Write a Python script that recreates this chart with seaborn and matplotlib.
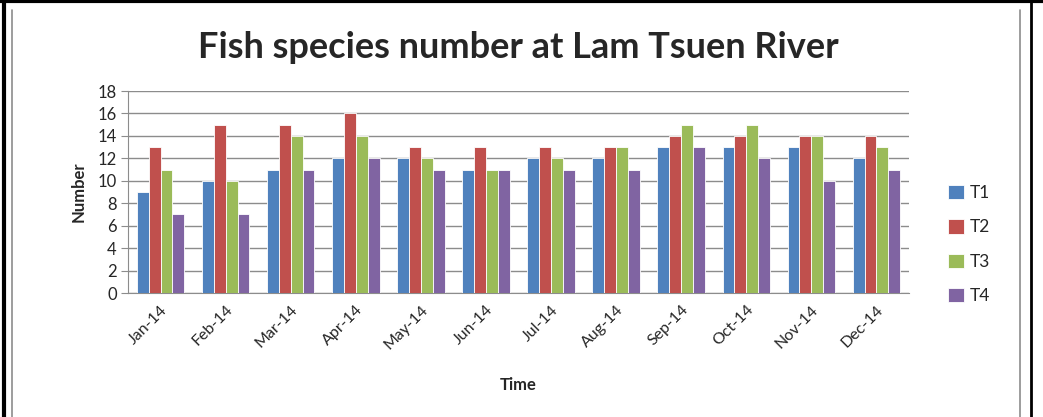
import numpy as np
import pandas as pd
import seaborn as sns
import matplotlib.pyplot as plt
from matplotlib.lines import Line2D

# Monthly fish species counts at four stations
months = ["Jan-14", "Feb-14", "Mar-14", "Apr-14", "May-14", "Jun-14",
          "Jul-14", "Aug-14", "Sep-14", "Oct-14", "Nov-14", "Dec-14"]
t1 = [9, 10, 11, 12, 12, 11, 12, 12, 13, 13, 13, 12]
t2 = [13, 15, 15, 16, 13, 13, 13, 13, 14, 14, 14, 14]
t3 = [11, 10, 14, 14, 12, 11, 12, 13, 15, 15, 14, 13]
t4 = [7, 7, 11, 12, 11, 11, 11, 11, 13, 12, 10, 11]
stations = ["T1", "T2", "T3", "T4"]

df = pd.DataFrame({"Time": months, "T1": t1, "T2": t2, "T3": t3, "T4": t4})
df = df.melt(id_vars="Time", var_name="Station", value_name="Number")

colors = ["#4F81BD", "#C0504D", "#9BBB59", "#8064A2"]

sns.set_style("white")
plt.rcParams["font.family"] = ["Lato", "DejaVu Sans"]

fig = plt.figure(figsize=(10.43, 4.17), dpi=100)
ax = fig.add_axes([128 / 1043, (417 - 293) / 417, 781 / 1043, 202 / 417])

sns.barplot(data=df, x="Time", y="Number", hue="Station", hue_order=stations,
            palette=colors, saturation=1, width=0.73, edgecolor="white",
            linewidth=0.6, ax=ax, zorder=3)

ax.set_ylim(0, 18)
ax.set_yticks(np.arange(0, 19, 2))
ax.set_xlim(-0.5, 11.5)
ax.yaxis.grid(True, color="#8c8c8c", linewidth=1.0, zorder=0)
ax.set_axisbelow(True)
for s in ["top", "right"]:
    ax.spines[s].set_visible(False)
ax.spines["left"].set_color("#8c8c8c")
ax.spines["bottom"].set_color("#8c8c8c")
ax.tick_params(axis="y", left=True, length=5, color="#8c8c8c", labelsize=12, pad=3)
ax.tick_params(axis="x", bottom=False, labelsize=11.5)
plt.setp(ax.get_xticklabels(), rotation=45, ha="right", rotation_mode="anchor")

ax.set_xlabel("Time", fontsize=12, fontweight="bold", labelpad=18)
ax.set_ylabel("Number", fontsize=12, fontweight="bold", labelpad=8)

fig.text(0.497, 0.885, "Fish species number at Lam Tsuen River",
         ha="center", va="center", fontsize=26, fontweight="bold")

leg = ax.legend(loc="center left", bbox_to_anchor=(1.03, 0.24), frameon=False,
                fontsize=12.5, labelspacing=1.05, handlelength=0.9,
                handleheight=0.9, handletextpad=0.35)

# frame lines around the chart
fig.add_artist(Line2D([0.004, 0.004], [0, 1], color="black", lw=3, transform=fig.transFigure))
fig.add_artist(Line2D([0, 1], [0.997, 0.997], color="black", lw=3, transform=fig.transFigure))
fig.add_artist(Line2D([12 / 1043, 12 / 1043], [0, 0.975], color="#8c8c8c", lw=1.2, transform=fig.transFigure))
fig.add_artist(Line2D([1020 / 1043, 1020 / 1043], [0, 0.975], color="#8c8c8c", lw=1.2, transform=fig.transFigure))
fig.add_artist(Line2D([1031 / 1043, 1031 / 1043], [0, 1], color="black", lw=2, transform=fig.transFigure))

fig.savefig("out.png", dpi=100)
